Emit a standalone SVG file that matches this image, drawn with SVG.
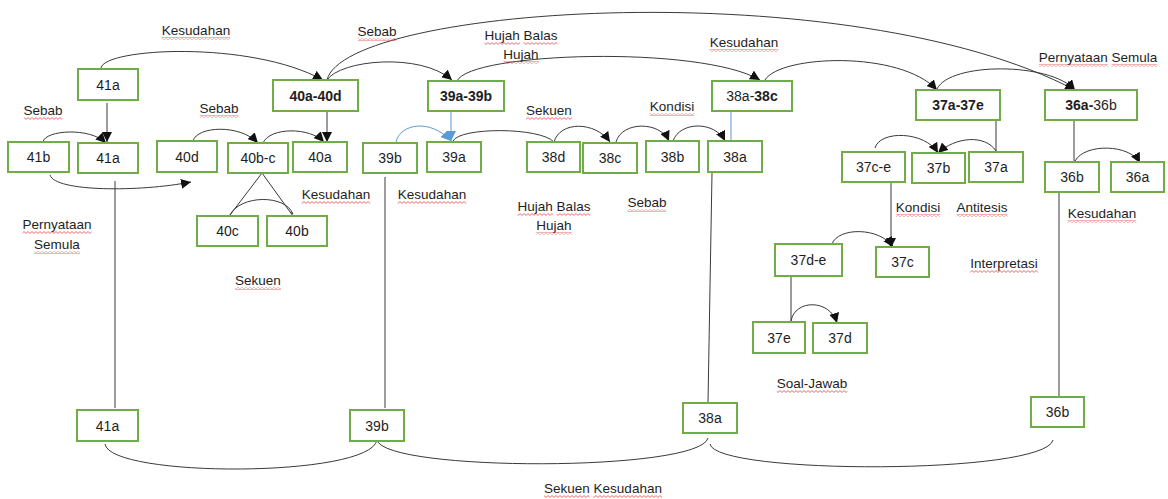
<svg xmlns="http://www.w3.org/2000/svg" width="1168" height="499" viewBox="0 0 1168 499">
<style>
.box rect{fill:#fff;stroke:#70AD47;stroke-width:2}
.box text{font-family:"Liberation Sans",Arial,sans-serif;font-size:14px;fill:#1e1e1e;text-anchor:middle}
.b{font-weight:bold}
.lbl{font-family:"Liberation Sans",Arial,sans-serif;font-size:13.5px;fill:#1e1e1e;text-anchor:middle}
.c{fill:none;stroke:#3a3a3a;stroke-width:1}
.ca{fill:none;stroke:#3a3a3a;stroke-width:1;marker-end:url(#ah)}
.blue{fill:none;stroke:#5B9BD5;stroke-width:1}
.sq{fill:url(#sqp)}
</style>
<defs>
<marker id="ah" viewBox="0 0 10 10" refX="10" refY="5" markerWidth="10" markerHeight="10" markerUnits="userSpaceOnUse" orient="auto"><path d="M0,0 L10,5 L0,10 z" fill="#111"/></marker>
<marker id="ahb" viewBox="0 0 10 10" refX="10" refY="5" markerWidth="10" markerHeight="10" markerUnits="userSpaceOnUse" orient="auto"><path d="M0,0 L10,5 L0,10 z" fill="#5B9BD5"/></marker>
<pattern id="sqp" width="4" height="3" patternUnits="userSpaceOnUse"><path d="M0,0.6 L2,2.4 L4,0.6" fill="none" stroke="#e03030" stroke-width="0.7"/></pattern>
</defs>

<g id="connectors">
<path class="ca" d="M101,68 C104,48 250,40 323,80"/>
<path class="ca" d="M107,103 L107,142"/>
<path class="ca" d="M43,142 C45,130 90,127 106,143"/>
<path class="ca" d="M50,175 C55,192 140,192 191,182"/>
<path class="ca" d="M193,141 C197,126 240,124 258,143"/>
<path class="ca" d="M263,143 C270,127 310,127 324,142"/>
<path class="ca" d="M327,111 L327,142"/>
<path class="c" d="M262,173 L230,215 M262,173 L293,216"/>
<path class="c" d="M230,215 C240,195 285,194 293,214 L290,212"/>
<path class="ca" d="M327,80 C340,60 420,52 452,80"/>
<path class="ca" d="M327,80 C345,5 850,-28 1075,90"/>
<path class="ca" d="M457,81 C470,52 700,45 760,80"/>
<path class="ca" d="M765,80 C780,55 900,50 937,90"/>
<path class="ca" d="M937,89 C950,62 1050,62 1075,90"/>
<path class="blue" d="M451,111 L451,141" marker-end="url(#ahb)"/>
<path class="blue" d="M396,142 C400,124 430,118 451,141" marker-end="url(#ahb)"/>
<path class="blue" d="M731,111 L731,141"/>
<path class="c" d="M453,141 C460,127 540,127 554,142"/>
<path class="ca" d="M554,142 C560,121 595,121 610,142"/>
<path class="ca" d="M616,142 C622,121 660,121 669,141"/>
<path class="ca" d="M673,141 C680,121 715,121 725,141"/>
<path class="c" d="M996,120 L996,151"/>
<path class="ca" d="M996,151 C985,134 955,137 938,153"/>
<path class="ca" d="M875,148 C880,130 925,131 938,153"/>
<path class="c" d="M1074,120 L1074,161"/>
<path class="ca" d="M1075,161 C1085,143 1130,144 1140,163"/>
<path class="ca" d="M891,183 L891,248"/>
<path class="ca" d="M832,244 C838,227 880,227 893,247"/>
<path class="c" d="M791,276 L791,322"/>
<path class="ca" d="M791,321 C795,299 830,299 837,323"/>
<path class="c" d="M115,181 L115,408"/>
<path class="c" d="M385,177 L385,408"/>
<path class="c" d="M712,173 L708,402"/>
<path class="c" d="M1059,192 L1059,396"/>
<path class="c" d="M105,444 C110,478 370,478 377,440 C385,472 700,472 708,438"/>
<path class="c" d="M710,444 C715,475 1045,475 1053,440"/>
</g>

<g id="n41a-top" class="box"><rect x="78" y="69" width="60" height="31"/><text x="108" y="89.5">41a</text></g>
<g id="n40a-40d" class="box"><rect x="273" y="80" width="85" height="31"/><text x="315.5" y="100.5" class="b">40a-40d</text></g>
<g id="n39a-39b" class="box"><rect x="428" y="81" width="76" height="30"/><text x="466" y="101" class="b">39a-39b</text></g>
<g id="n38a-38c" class="box"><rect x="712" y="81" width="80" height="30"/><text x="752" y="101">38a-<tspan class="b">38c</tspan></text></g>
<g id="n37a-37e" class="box"><rect x="916" y="90" width="84" height="30"/><text x="958" y="110" class="b">37a-37e</text></g>
<g id="n36a-36b" class="box"><rect x="1045" y="90" width="92" height="30"/><text x="1091" y="110"><tspan class="b">36a-</tspan>36b</text></g>

<g id="n41b" class="box"><rect x="8" y="142" width="61" height="30"/><text x="38.5" y="162">41b</text></g>
<g id="n41a-mid" class="box"><rect x="78" y="143" width="60" height="30"/><text x="108" y="163">41a</text></g>
<g id="n40d" class="box"><rect x="157" y="141" width="60" height="31"/><text x="187" y="161.5">40d</text></g>
<g id="n40b-c" class="box"><rect x="228" y="143" width="60" height="30"/><text x="258" y="163">40b-c</text></g>
<g id="n40a" class="box"><rect x="293" y="142" width="54" height="30"/><text x="320" y="162">40a</text></g>
<g id="n39b-mid" class="box"><rect x="363" y="143" width="54" height="30"/><text x="390" y="163">39b</text></g>
<g id="n39a" class="box"><rect x="427" y="142" width="54" height="30"/><text x="454" y="162">39a</text></g>
<g id="n38d" class="box"><rect x="527" y="142" width="53" height="30"/><text x="553.5" y="162">38d</text></g>
<g id="n38c" class="box"><rect x="583" y="143" width="54" height="30"/><text x="610" y="163">38c</text></g>
<g id="n38b" class="box"><rect x="646" y="141" width="53" height="31"/><text x="672.5" y="161.5">38b</text></g>
<g id="n38a-mid" class="box"><rect x="708" y="141" width="54" height="31"/><text x="735" y="161.5">38a</text></g>
<g id="n37c-e" class="box"><rect x="842" y="152" width="63" height="30"/><text x="873.5" y="172">37c-e</text></g>
<g id="n37b" class="box"><rect x="912" y="153" width="53" height="30"/><text x="938.5" y="173">37b</text></g>
<g id="n37a" class="box"><rect x="969" y="152" width="54" height="30"/><text x="996" y="172">37a</text></g>
<g id="n36b-mid" class="box"><rect x="1045" y="162" width="54" height="30"/><text x="1072" y="182">36b</text></g>
<g id="n36a" class="box"><rect x="1111" y="162" width="53" height="30"/><text x="1137.5" y="182">36a</text></g>

<g id="n40c" class="box"><rect x="197" y="216" width="61" height="30"/><text x="227.5" y="236">40c</text></g>
<g id="n40b" class="box"><rect x="267" y="216" width="60" height="30"/><text x="297" y="236">40b</text></g>
<g id="n37d-e" class="box"><rect x="775" y="244" width="67" height="32"/><text x="808.5" y="265">37d-e</text></g>
<g id="n37c" class="box"><rect x="876" y="247" width="53" height="30"/><text x="902.5" y="267">37c</text></g>
<g id="n37e" class="box"><rect x="753" y="322" width="52" height="31"/><text x="779" y="342.5">37e</text></g>
<g id="n37d" class="box"><rect x="813" y="323" width="54" height="30"/><text x="840" y="343">37d</text></g>

<g id="n41a-bot" class="box"><rect x="77" y="410" width="61" height="31"/><text x="107.5" y="430.5">41a</text></g>
<g id="n39b-bot" class="box"><rect x="350" y="410" width="54" height="31"/><text x="377" y="430.5">39b</text></g>
<g id="n38a-bot" class="box"><rect x="683" y="403" width="54" height="30"/><text x="710" y="423">38a</text></g>
<g id="n36b-bot" class="box"><rect x="1031" y="397" width="53" height="30"/><text x="1057.5" y="417">36b</text></g>

<g id="labels">
<text class="lbl" x="196" y="35">Kesudahan</text>
<text class="lbl" x="377" y="36">Sebab</text>
<text class="lbl" x="521" y="40">Hujah Balas</text>
<text class="lbl" x="521" y="59">Hujah</text>
<text class="lbl" x="744" y="47">Kesudahan</text>
<text class="lbl" x="1098" y="62">Pernyataan Semula</text>
<text class="lbl" x="43" y="115">Sebab</text>
<text class="lbl" x="219" y="113">Sebab</text>
<text class="lbl" x="549" y="115">Sekuen</text>
<text class="lbl" x="672" y="111">Kondisi</text>
<text class="lbl" x="336" y="199">Kesudahan</text>
<text class="lbl" x="432" y="199">Kesudahan</text>
<text class="lbl" x="554" y="211">Hujah Balas</text>
<text class="lbl" x="554" y="230">Hujah</text>
<text class="lbl" x="647" y="207">Sebab</text>
<text class="lbl" x="918" y="212">Kondisi</text>
<text class="lbl" x="982" y="212">Antitesis</text>
<text class="lbl" x="1102" y="218">Kesudahan</text>
<text class="lbl" x="57" y="229">Pernyataan</text>
<text class="lbl" x="57" y="249">Semula</text>
<text class="lbl" x="258" y="285">Sekuen</text>
<text class="lbl" x="1004" y="268">Interpretasi</text>
<text class="lbl" x="812" y="388">Soal-Jawab</text>
<text class="lbl" x="603" y="493">Sekuen Kesudahan</text>
</g>

<g id="squiggles">
<rect class="sq" x="161.7" y="37" width="68.6" height="3"/>
<rect class="sq" x="357.8" y="38" width="38.5" height="3"/>
<rect class="sq" x="484.6" y="42" width="35.3" height="3"/>
<rect class="sq" x="523.6" y="42" width="33.8" height="3"/>
<rect class="sq" x="503.4" y="61" width="35.3" height="3"/>
<rect class="sq" x="709.7" y="49" width="68.6" height="3"/>
<rect class="sq" x="1038.7" y="64" width="69.1" height="3"/>
<rect class="sq" x="1111.6" y="64" width="45.8" height="3"/>
<rect class="sq" x="23.8" y="117" width="38.5" height="3"/>
<rect class="sq" x="199.8" y="115" width="38.5" height="3"/>
<rect class="sq" x="526.1" y="117" width="45.8" height="3"/>
<rect class="sq" x="649.9" y="113" width="44.3" height="3"/>
<rect class="sq" x="301.7" y="201" width="68.6" height="3"/>
<rect class="sq" x="397.7" y="201" width="68.6" height="3"/>
<rect class="sq" x="517.6" y="213" width="35.3" height="3"/>
<rect class="sq" x="556.6" y="213" width="33.8" height="3"/>
<rect class="sq" x="536.4" y="232" width="35.3" height="3"/>
<rect class="sq" x="627.8" y="209" width="38.5" height="3"/>
<rect class="sq" x="895.9" y="214" width="44.3" height="3"/>
<rect class="sq" x="956.5" y="214" width="51" height="3"/>
<rect class="sq" x="1067.7" y="220" width="68.6" height="3"/>
<rect class="sq" x="22.5" y="231" width="69.1" height="3"/>
<rect class="sq" x="34.1" y="251" width="45.8" height="3"/>
<rect class="sq" x="235.1" y="287" width="45.8" height="3"/>
<rect class="sq" x="970.3" y="270" width="67.5" height="3"/>
<rect class="sq" x="776.8" y="390" width="70.5" height="3"/>
<rect class="sq" x="543.9" y="495" width="45.8" height="3"/>
<rect class="sq" x="593.5" y="495" width="68.6" height="3"/>
</g>
</svg>
